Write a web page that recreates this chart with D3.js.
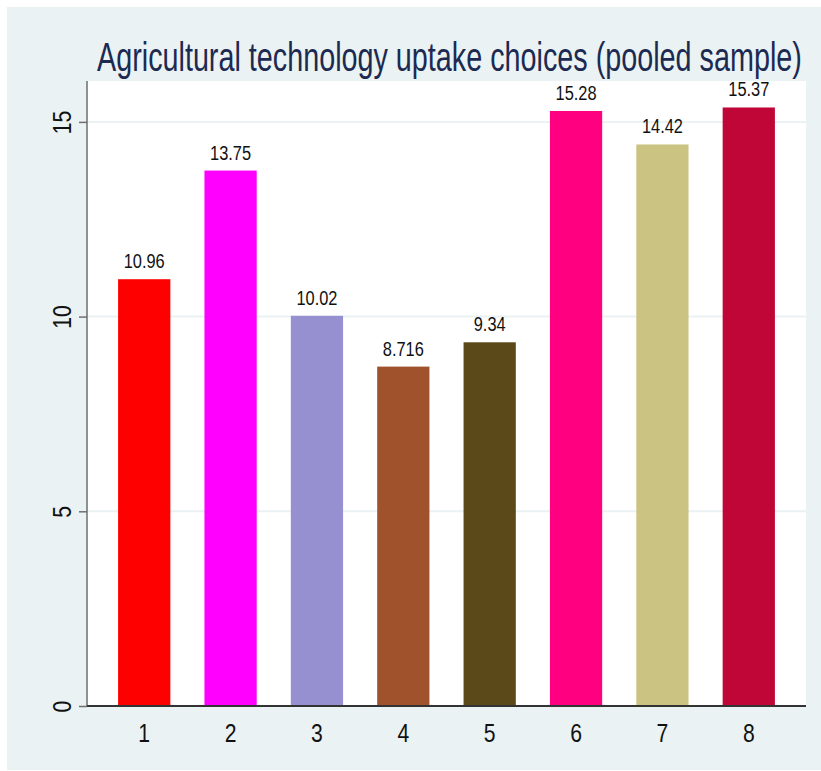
<!DOCTYPE html>
<html>
<head>
<meta charset="utf-8">
<script src="https://cdn.jsdelivr.net/npm/d3@7"></script>
<style>
  html, body { margin: 0; padding: 0; background: #ffffff; }
  svg { display: block; }
  text { font-family: "Liberation Sans", Arial, sans-serif; }
</style>
</head>
<body>
<svg id="chart" width="821" height="771"></svg>
<script>
// Uptake choice categories and their shares
const categories = ["1", "2", "3", "4", "5", "6", "7", "8"];
const values = [10.96, 13.75, 10.02, 8.716, 9.34, 15.28, 14.42, 15.37];
const valueLabels = ["10.96", "13.75", "10.02", "8.716", "9.34", "15.28", "14.42", "15.37"];
const barColors = ["#ff0000", "#ff00ff", "#9690d0", "#a0522d", "#5c4919", "#ff0080", "#cbc382", "#c00636"];
const yTicks = [0, 5, 10, 15];
const titleText = "Agricultural technology uptake choices (pooled sample)";

const svg = d3.select("#chart");

// Outer graph region
svg.append("rect")
  .attr("x", 7).attr("y", 7)
  .attr("width", 814).attr("height", 763)
  .attr("fill", "#eaf2f3");

const plot = { left: 87, right: 806, top: 81, bottom: 706 };

// Plot region
svg.append("rect")
  .attr("x", plot.left).attr("y", plot.top)
  .attr("width", plot.right - plot.left).attr("height", plot.bottom - plot.top)
  .attr("fill", "#ffffff");

const y = d3.scaleLinear()
  .domain([0, 16.05])
  .range([plot.bottom, plot.top]);

const x = d3.scaleBand()
  .domain(categories)
  .range([plot.left, plot.right])
  .paddingInner(0.395)
  .paddingOuter(0.36);

// Horizontal grid lines
svg.append("g")
  .selectAll("line")
  .data(yTicks.filter(d => d > 0))
  .join("line")
  .attr("x1", plot.left).attr("x2", plot.right)
  .attr("y1", d => y(d)).attr("y2", d => y(d))
  .attr("stroke", "#eaf2f3")
  .attr("stroke-width", 2);

// Bars
svg.append("g")
  .selectAll("rect")
  .data(values)
  .join("rect")
  .attr("x", (d, i) => x(categories[i]))
  .attr("y", d => y(d))
  .attr("width", x.bandwidth())
  .attr("height", d => y(0) - y(d))
  .attr("fill", (d, i) => barColors[i]);

// Value labels above bars (narrowed type)
svg.append("g")
  .selectAll("text")
  .data(values)
  .join("text")
  .attr("transform", (d, i) =>
    `translate(${x(categories[i]) + x.bandwidth() / 2},${y(d) - 11}) scale(0.8,1)`)
  .attr("text-anchor", "middle")
  .attr("font-size", 20.5)
  .attr("fill", "#111111")
  .text((d, i) => valueLabels[i]);

// Y axis
const yAxis = d3.axisLeft(y)
  .tickValues(yTicks)
  .tickSize(8)
  .tickPadding(6)
  .tickFormat(d3.format("d"));

const yg = svg.append("g")
  .attr("transform", `translate(${plot.left},0)`)
  .call(yAxis);
yg.select(".domain")
  .attr("d", `M0,${plot.top}V${plot.bottom}`)
  .attr("stroke", "#6e6e6e")
  .attr("stroke-width", 1.5);
yg.selectAll(".tick line").attr("stroke", "#6e6e6e").attr("stroke-width", 1.5);
yg.selectAll(".tick text")
  .attr("x", null).attr("dy", null)
  .attr("transform", "translate(-16,0) rotate(-90) scale(0.83,1)")
  .attr("text-anchor", "middle")
  .attr("font-size", 25.5)
  .attr("fill", "#111111");

// X axis
const xAxis = d3.axisBottom(x).tickSize(0).tickPadding(0);
const xg = svg.append("g")
  .attr("transform", `translate(0,${plot.bottom})`)
  .call(xAxis);
xg.select(".domain")
  .attr("d", `M${plot.left},0H${plot.right}`)
  .attr("stroke", "#333333")
  .attr("stroke-width", 2);
xg.selectAll(".tick text")
  .attr("y", null).attr("dy", null)
  .attr("transform", "translate(0,36) scale(0.83,1)")
  .attr("font-size", 25.5)
  .attr("fill", "#111111");

// Title, condensed horizontally to span the plot width
const title = svg.append("text")
  .attr("text-anchor", "start")
  .attr("font-size", 40)
  .attr("fill", "#1c2a52")
  .text(titleText);
const titleWidth = title.node().getComputedTextLength();
title.attr("transform", `translate(97,71) scale(${705 / titleWidth},1)`);
</script>
</body>
</html>
